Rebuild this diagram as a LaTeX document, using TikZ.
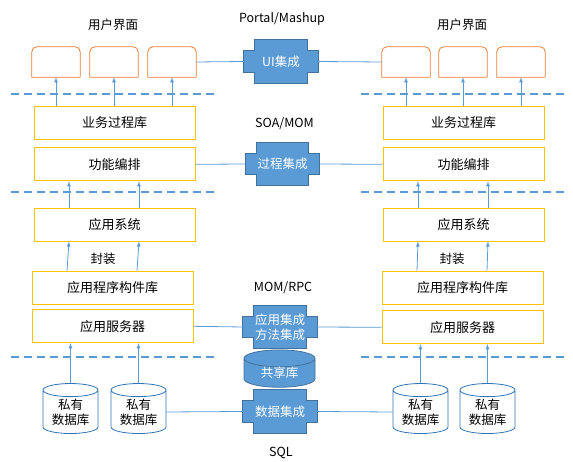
\documentclass[tikz,border=0pt]{standalone}
\usepackage{fontspec}
\setmainfont{Noto Sans CJK SC}
\usepackage{xcolor}
\usepackage{tikz}
\usetikzlibrary{shapes, shapes.geometric, arrows, positioning, calc, backgrounds}
\definecolor{boxorange}{RGB}{237, 125, 49}
\definecolor{boxyellow}{RGB}{255, 192, 0}
\definecolor{linkblue}{RGB}{91, 155, 213}
\definecolor{darkblue}{RGB}{65, 113, 156}
\definecolor{dbblue}{RGB}{46, 117, 182}

% cross-shaped integration block, drawn behind its node
\newcommand{\integshape}[1]{%
	\begin{scope}[on background layer]
		\filldraw[fill=linkblue, draw=darkblue, thick]
			([xshift=11pt]#1.north west) -- ([xshift=-11pt]#1.north east)
			-- ([xshift=-11pt, yshift=-11pt]#1.north east) -- ([yshift=-11pt]#1.north east)
			-- ([yshift=11pt]#1.south east) -- ([xshift=-11pt, yshift=11pt]#1.south east)
			-- ([xshift=-11pt]#1.south east) -- ([xshift=11pt]#1.south west)
			-- ([xshift=11pt, yshift=11pt]#1.south west) -- ([yshift=11pt]#1.south west)
			-- ([yshift=-11pt]#1.north west) -- ([xshift=11pt, yshift=-11pt]#1.north west)
			-- cycle;
	\end{scope}}

\begin{document}
\begin{tikzpicture}[x=1pt, y=-1pt,
				font=\fontsize{12.5}{15}\selectfont,
				box/.style={draw=boxyellow, thick, minimum width=161pt, minimum height=33pt, inner sep=0pt, font=\fontsize{13}{15}\selectfont},
				uibox/.style={minimum width=48pt, minimum height=30pt, inner sep=0pt},
				uiline/.style={draw=boxorange, thick},
				integ/.style={minimum width=74pt, minimum height=43pt, inner sep=0pt, text=white, align=center},
				db/.style={cylinder, shape border rotate=90, draw=dbblue, thick, fill=white, minimum width=55pt, minimum height=50pt, shape aspect=0.35, inner sep=0pt, align=center},
				shared/.style={cylinder, shape border rotate=90, draw=darkblue, thick, fill=linkblue, text=white, minimum width=71pt, minimum height=22pt, shape aspect=0.45, inner sep=0pt},
				arrow/.style={-latex, linkblue, line width=0.8pt},
				link/.style={linkblue, line width=0.8pt},
				layer/.style={linkblue, line width=2.2pt, dash pattern=on 8pt off 5pt},
				lbl/.style={font=\fontsize{12.5}{14}\selectfont}
			]
			\useasboundingbox (0,0) rectangle (573,462);

			% Layer separators
			\foreach \y in {94, 192, 357} {
				\draw[layer] (11,\y) -- (215,\y);
				\draw[layer] (361,\y) -- (565,\y);
			}

			% User interface boxes
			\foreach \n/\x in {uiL1/56, uiL2/114, uiL3/172, uiR1/406, uiR2/463, uiR3/521} {
				\node[uibox] (\n) at (\x,62) {};
				\draw[uiline] (\n.south east) -- (\n.south west) [rounded corners=5pt] -- (\n.north west) -- (\n.north east) -- (\n.south east);
			}

			% Left column
			\node[box] (bizL) at (114.5,122.5) {业务过程库};
			\node[box, below=8pt of bizL] (funcL) {功能编排};
			\node[box] (appsysL) at (114.5,224.5) {应用系统};
			\node[box] (compL) at (112.5,287.5) {应用程序构件库};
			\node[box, below=5pt of compL] (serverL) {应用服务器};
			\node[db] (dbL1) at (70.5,412) {私有\\数据库};
			\node[db] (dbL2) at (138.5,412) {私有\\数据库};

			% Right column
			\node[box] (bizR) at (463.5,122.5) {业务过程库};
			\node[box, below=8pt of bizR] (funcR) {功能编排};
			\node[box] (appsysR) at (463.5,224.5) {应用系统};
			\node[box] (compR) at (462.5,287.5) {应用程序构件库};
			\node[box, below=6pt of compR] (serverR) {应用服务器};
			\node[db] (dbR1) at (420.5,412) {私有\\数据库};
			\node[db] (dbR2) at (487.5,412) {私有\\数据库};

			% Integration blocks
			\node[integ] (uiI) at (281,61.5) {UI集成};
			\node[integ] (procI) at (282.5,164) {过程集成};
			\node[integ] (appI) at (280,327) {应用集成\\方法集成};
			\node[shared] (sharedI) at (279.5,373) {共享库};
			\node[integ] (dataI) at (280,411.5) {数据集成};
			\foreach \n in {uiI, procI, appI, dataI} {
				\integshape{\n}
			}

			% Arrows
			\foreach \n/\b in {uiL1/bizL, uiL2/bizL, uiL3/bizL, uiR1/bizR, uiR2/bizR, uiR3/bizR} {
				\draw[arrow] (\n.south |- \b.north) -- (\n.south);
			}
			\foreach \s in {L, R} {
				\foreach \dx in {-45.5, 24.5} {
					\draw[arrow] ([xshift=\dx pt]appsys\s.north) -- ([xshift=\dx pt]func\s.south);
					\draw[arrow] ([xshift=\dx pt]comp\s.north) -- ([xshift=\dx pt]appsys\s.south);
				}
			}
			\foreach \d/\s in {dbL1/serverL, dbL2/serverL, dbR1/serverR, dbR2/serverR} {
				\draw[arrow] (\d.north) -- (\d.north |- \s.south);
			}

			% Links
			\draw[link] (uiL3.east) -- (uiI.west);
			\draw[link] (uiI.east) -- (uiR1.west);
			\draw[link] (funcL.east) -- (procI.west);
			\draw[link] (procI.east) -- (funcR.west);
			\draw[link] (serverL.east) -- (appI.west);
			\draw[link] (appI.east) -- (serverR.west);
			\draw[link] (dbL2.east) -- (dataI.west);
			\draw[link] (dataI.east) -- (dbR1.west);

			% Labels
			\node[lbl] (uiLabelL) at (113,25) {用户界面};
			\node[lbl] (uiLabelR) at (462,25) {用户界面};
			\node[lbl] (portal) at (282,19) {Portal/Mashup};
			\node[lbl] (soa) at (284.5,124) {SOA/MOM};
			\node[lbl] (rpc) at (283,288) {MOM/RPC};
			\node[lbl] (sql) at (281,453) {SQL};
			\node[lbl] (wrapL) at (103,259) {封装};
			\node[lbl] (wrapR) at (452,259) {封装};

		\end{tikzpicture}
\end{document}
